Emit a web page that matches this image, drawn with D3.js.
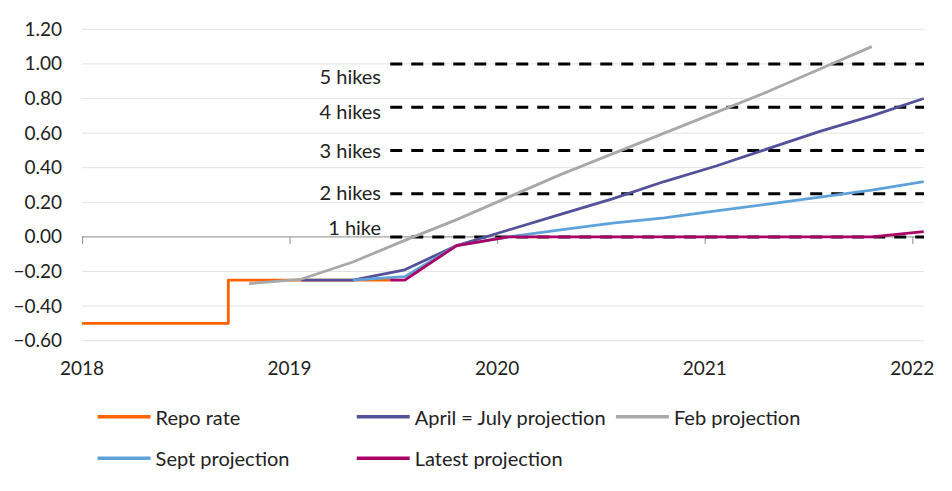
<!DOCTYPE html>
<html>
<head>
<meta charset="utf-8">
<script src="https://cdn.jsdelivr.net/npm/d3@7"></script>
<style>
  html, body { margin: 0; padding: 0; background: #fff; }
  svg { display: block; font-family: Lato, "Liberation Sans", sans-serif; }
</style>
</head>
<body>
<svg id="chart" width="952" height="491"></svg>
<script>
// ---------- DATA ----------
const yTicks = [-0.6, -0.4, -0.2, 0, 0.2, 0.4, 0.6, 0.8, 1.0, 1.2];
const xYears = [2018, 2019, 2020, 2021, 2022];

// Repo rate (step series)
const repoDates  = [2018.0, 2018.705, 2019.485];
const repoValues = [-0.50, -0.25, -0.25];

// Quarterly projection dates
const febDates   = [2018.805, 2019.055, 2019.305, 2019.555, 2019.805, 2020.055, 2020.305, 2020.555, 2020.805, 2021.055, 2021.305, 2021.555, 2021.805];
const febValues  = [-0.27, -0.245, -0.145, -0.02, 0.10, 0.23, 0.36, 0.48, 0.60, 0.72, 0.84, 0.97, 1.10];

const aprDates   = [2019.055, 2019.305, 2019.555, 2019.805, 2020.055, 2020.305, 2020.555, 2020.805, 2021.055, 2021.305, 2021.555, 2021.805, 2022.055];
const aprValues  = [-0.25, -0.25, -0.19, -0.05, 0.04, 0.13, 0.22, 0.32, 0.41, 0.51, 0.61, 0.70, 0.80];

const septDates  = [2019.305, 2019.555, 2019.805, 2020.055, 2020.305, 2020.555, 2020.805, 2021.055, 2021.305, 2021.555, 2021.805, 2022.055];
const septValues = [-0.25, -0.23, -0.05, 0.00, 0.04, 0.08, 0.11, 0.15, 0.19, 0.23, 0.27, 0.32];

const latestDates  = [2019.485, 2019.555, 2019.805, 2020.055, 2020.305, 2020.555, 2020.805, 2021.055, 2021.305, 2021.555, 2021.805, 2022.055];
const latestValues = [-0.25, -0.25, -0.05, 0.00, 0.00, 0.00, 0.00, 0.00, 0.00, 0.00, 0.00, 0.03];

// Hike reference levels
const hikeLevels = [1.00, 0.75, 0.50, 0.25, 0.00];
const hikeLabels = ["5 hikes", "4 hikes", "3 hikes", "2 hikes", "1 hike"];
const hikeLabelLevels = [0.93, 0.725, 0.50, 0.26, 0.06];
const hikeStart = 2019.485;

const seriesNames = ["Repo rate", "April = July projection", "Feb projection", "Sept projection", "Latest projection"];
const seriesColors = ["#FF6200", "#525199", "#A8A8A8", "#5FA2DA", "#AB0066"];

// ---------- CHART ----------
const svg = d3.select("#chart");
const xEnd = 2022.0564;
const x = d3.scaleLinear().domain([2018, xEnd]).range([82, 924]);
const y = d3.scaleLinear().domain([-0.6, 1.2]).range([340.7, 29.3]);
const textColor = "#222";

// gridlines
svg.append("g").selectAll("line")
  .data(yTicks.filter(d => d !== 0))
  .join("line")
  .attr("x1", x(2018)).attr("x2", x(xEnd))
  .attr("y1", d => y(d)).attr("y2", d => y(d))
  .attr("stroke", "#e3e3e3").attr("stroke-width", 1);

// y axis labels
const yAxis = d3.axisLeft(y).tickValues(yTicks).tickFormat(d3.format(".2f")).tickSize(0).tickPadding(0);
const yg = svg.append("g").attr("transform", "translate(62,0)").call(yAxis);
yg.select(".domain").remove();
yg.selectAll("text").attr("font-size", 19).attr("fill", textColor).attr("font-family", "Lato, sans-serif");

// zero axis line with year ticks
const xAxis = d3.axisBottom(x).tickValues(xYears).tickFormat(d3.format("d")).tickSize(7).tickSizeOuter(0);
const xg = svg.append("g").attr("transform", `translate(0,${y(0)})`).call(xAxis);
xg.select(".domain").attr("stroke", "#8a8a8a").attr("d", `M${x(2018)},0H${x(xEnd)}`);
xg.selectAll(".tick line").attr("stroke", "#8a8a8a");
xg.selectAll(".tick text").remove();

// x labels at the bottom
svg.append("g").selectAll("text")
  .data(xYears).join("text")
  .attr("x", d => x(d)).attr("y", 367)
  .attr("text-anchor", "middle").attr("dominant-baseline", "central")
  .attr("font-size", 19).attr("fill", textColor)
  .text(d => d);

// hike dashed lines
svg.append("g").selectAll("line")
  .data(hikeLevels).join("line")
  .attr("x1", x(hikeStart)).attr("x2", x(xEnd))
  .attr("y1", d => y(d)).attr("y2", d => y(d))
  .attr("stroke", "#000").attr("stroke-width", 3)
  .attr("stroke-dasharray", "12,9");

svg.append("g").selectAll("text")
  .data(hikeLabels).join("text")
  .attr("x", 381).attr("y", (d, i) => y(hikeLabelLevels[i]))
  .attr("text-anchor", "end").attr("dominant-baseline", "central")
  .attr("font-size", 20).attr("fill", textColor)
  .text(d => d);

// series lines
const line = d3.line().x(d => x(d[0])).y(d => y(d[1]));
const zip = (a, b) => a.map((d, i) => [d, b[i]]);

const lines = [
  { pts: zip(repoDates, repoValues), curve: d3.curveStepAfter, c: 0 },
  { pts: zip(aprDates, aprValues), curve: d3.curveLinear, c: 1 },
  { pts: zip(febDates, febValues), curve: d3.curveLinear, c: 2 },
  { pts: zip(septDates, septValues), curve: d3.curveLinear, c: 3 },
  { pts: zip(latestDates, latestValues), curve: d3.curveLinear, c: 4 }
];
svg.append("g").selectAll("path")
  .data(lines).join("path")
  .attr("d", d => line.curve(d.curve)(d.pts))
  .attr("fill", "none")
  .attr("stroke", d => seriesColors[d.c])
  .attr("stroke-width", 2.8)
  .attr("stroke-linejoin", "round");

// legend
const legendPos = [
  { lx: 97.6, ty: 416.7 }, { lx: 356.7, ty: 416.7 }, { lx: 615.9, ty: 416.7 },
  { lx: 97.6, ty: 458.3 }, { lx: 356.7, ty: 458.3 }
];
const lg = svg.append("g").selectAll("g")
  .data(seriesNames).join("g")
  .attr("transform", (d, i) => `translate(${legendPos[i].lx},${legendPos[i].ty})`);
lg.append("line")
  .attr("x1", 0).attr("x2", 53).attr("y1", 0).attr("y2", 0)
  .attr("stroke", (d, i) => seriesColors[i]).attr("stroke-width", 3.5);
lg.append("text")
  .attr("x", 58).attr("y", 0).attr("dominant-baseline", "central")
  .attr("font-size", 20).attr("fill", textColor)
  .text(d => d);
</script>
</body>
</html>
